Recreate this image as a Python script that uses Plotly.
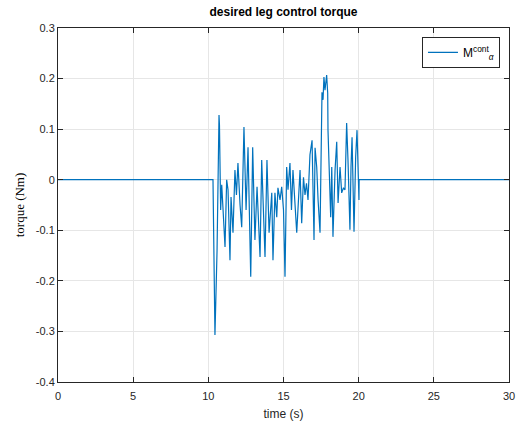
import plotly.graph_objects as go

# time (s) and torque (Nm)
time_s = [0.0, 10.31, 10.44, 10.58, 10.71, 10.74, 10.82, 10.89, 10.98, 11.11, 11.22, 11.31, 11.44,
          11.51, 11.64, 11.77, 11.87, 11.97, 12.11, 12.22, 12.37, 12.51, 12.64, 12.82, 12.95,
          13.10, 13.24, 13.44, 13.55, 13.64, 13.77, 13.90, 14.04, 14.22, 14.30, 14.43, 14.55,
          14.63, 14.77, 14.88, 15.00, 15.10, 15.21, 15.30, 15.43, 15.53, 15.63, 15.88, 16.10,
          16.21, 16.33, 16.43, 16.53, 16.63, 16.76, 16.90, 17.03, 17.10, 17.21, 17.30, 17.43,
          17.56, 17.63, 17.69, 17.76, 17.87, 17.94, 17.96, 18.03, 18.14, 18.21, 18.29, 18.43,
          18.54, 18.63, 18.76, 18.87, 18.99, 19.09, 19.20, 19.29, 19.42, 19.49, 19.56, 19.69,
          19.80, 19.89, 20.02, 20.03, 30.0]
torque = [0.0, 0.0, -0.307, -0.140, 0.128, 0.108, -0.060, -0.010, -0.060, -0.133, 0.000, -0.020,
          -0.159, -0.034, -0.105, 0.019, -0.030, 0.033, -0.050, -0.094, 0.104, -0.060, 0.064,
          -0.192, 0.064, -0.119, -0.014, -0.153, 0.039, -0.040, -0.153, 0.039, -0.105, -0.026,
          -0.159, -0.026, -0.074, -0.016, -0.040, -0.014, -0.060, -0.192, 0.025, -0.020, 0.033,
          -0.060, 0.019, -0.105, 0.019, -0.086, 0.005, -0.030, -0.007, -0.040, 0.049, 0.078,
          -0.119, 0.063, 0.025, -0.040, -0.105, 0.173, 0.158, 0.203, 0.177, 0.207, 0.171, 0.098,
          0.019, -0.074, 0.025, -0.113, 0.019, 0.075, -0.046, 0.025, -0.026, -0.016, -0.020,
          0.112, 0.039, -0.099, 0.025, 0.084, -0.103, 0.045, 0.098, -0.040, 0.0, 0.0]

x_ticks = [0, 5, 10, 15, 20, 25, 30]
y_ticks = [0.3, 0.2, 0.1, 0, -0.1, -0.2, -0.3, -0.4]
y_tick_text = ["0.3", "0.2", "0.1", "0", "-0.1", "-0.2", "-0.3", "-0.4"]

axis_color = "#262626"
tick_font = dict(family="Liberation Sans, Arial, sans-serif", size=11, color=axis_color)

fig = go.Figure()
fig.add_trace(go.Scatter(
    x=time_s, y=torque, mode="lines",
    line=dict(color="#0072BD", width=1.2),
    name="M<sup>cont</sup><sub><i>α</i></sub>",
))

fig.update_layout(
    width=519, height=430,
    margin=dict(l=58, r=10, t=28, b=48, autoexpand=False),
    paper_bgcolor="white", plot_bgcolor="white",
    title=dict(text="<b>desired leg control torque</b>", x=0.5, xref="paper",
               y=0.972, yanchor="middle",
               font=dict(family="Liberation Sans, Arial, sans-serif", size=12, color="black")),
    showlegend=True,
    legend=dict(x=0.98, y=0.975, xanchor="right", yanchor="top",
                bgcolor="white", bordercolor=axis_color, borderwidth=1,
                font=dict(family="Liberation Sans, Arial, sans-serif", size=12, color="black")),
    xaxis=dict(range=[0, 30], tickvals=x_ticks, ticktext=[str(v) for v in x_ticks],
               automargin=False,
               showgrid=True, gridcolor="#e6e6e6", gridwidth=1, zeroline=False,
               showline=True, linecolor=axis_color, linewidth=1, mirror="ticks",
               ticks="inside", ticklen=5, tickcolor=axis_color, tickfont=tick_font,
               ticklabelstandoff=4,
               title=dict(text="time (s)", standoff=8,
                          font=dict(family="Liberation Sans, Arial, sans-serif", size=12, color=axis_color))),
    yaxis=dict(range=[-0.4, 0.3], tickvals=y_ticks, ticktext=y_tick_text,
               automargin=False,
               showgrid=True, gridcolor="#e6e6e6", gridwidth=1, zeroline=False,
               showline=True, linecolor=axis_color, linewidth=1, mirror="ticks",
               ticks="inside", ticklen=5, tickcolor=axis_color, tickfont=tick_font,
               title=dict(text="torque (Nm)", standoff=8,
                          font=dict(family="Liberation Serif, Times New Roman, serif", size=13, color="black"))),
)

fig.write_html("out.html")
